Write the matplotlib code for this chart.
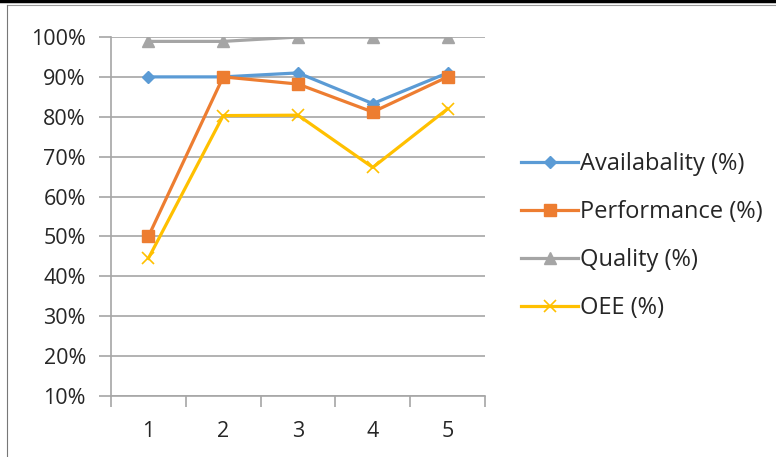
import matplotlib.pyplot as plt
from matplotlib.lines import Line2D

plt.rcParams['font.family'] = ['Open Sans', 'DejaVu Sans']

periods = [1, 2, 3, 4, 5]
availability = [90, 90, 91, 83.3, 91]
performance = [50, 90, 88.2, 81.2, 90]
quality = [98.9, 98.9, 100, 100, 100]
oee = [44.5, 80.3, 80.4, 67.3, 82]

yticks = list(range(10, 101, 10))

fig = plt.figure(figsize=(7.76, 4.57), dpi=100)
ax = fig.add_axes([111 / 776, 1 - 396 / 457, 374 / 776, 359 / 457])

grid_c = '#a6a6a6'
for t in yticks:
    ax.axhline(t, color=grid_c, lw=1.2, zorder=1)

ax.plot(periods, availability, color='#5b9bd5', lw=2.3, marker='D', ms=6.5,
        label='Availabality (%)', zorder=3)
ax.plot(periods, performance, color='#ed7d31', lw=2.3, marker='s', ms=8,
        label='Performance (%)', zorder=4)
ax.plot(periods, quality, color='#a5a5a5', lw=2.3, marker='^', ms=8.5,
        label='Quality (%)', zorder=3)
ax.plot(periods, oee, color='#ffc000', lw=2.3, marker='x', ms=9, mew=1.2,
        label='OEE (%)', zorder=3)

ax.set_xlim(0.5, 5.5)
ax.set_ylim(10, 100)
ax.set_yticks(yticks)
ax.set_yticklabels([f'{t}%' for t in yticks])
ax.set_xticks(periods)
ax.set_xticks([0.5, 1.5, 2.5, 3.5, 4.5, 5.5], minor=True)

for s in ['top', 'right']:
    ax.spines[s].set_visible(False)
ax.spines['left'].set_color(grid_c)
ax.spines['bottom'].set_color(grid_c)
ax.spines['left'].set_linewidth(1.2)
ax.spines['bottom'].set_linewidth(1.2)
ax.spines['left'].set_zorder(1)

ax.tick_params(axis='y', length=9, width=1.2, color=grid_c, labelsize=15.5,
               pad=9, labelcolor='#262626')
ax.tick_params(axis='x', which='major', length=0, labelsize=15.5, pad=18,
               labelcolor='#262626')
ax.tick_params(axis='x', which='minor', length=8, width=1.2, color=grid_c)

leg = fig.legend(loc='upper left', bbox_to_anchor=(500 / 776, 1 - 131 / 457),
                 frameon=False, fontsize=17, handlelength=2.4,
                 handletextpad=0.1, labelspacing=1.02, labelcolor='#262626')

# page frame around the chart
fig.add_artist(Line2D([0, 1], [0.998, 0.998], color='black', lw=2.5,
                      transform=fig.transFigure))
fig.add_artist(Line2D([7 / 776, 1], [1 - 5 / 457, 1 - 5 / 457], color='#999999',
                      lw=0.8, transform=fig.transFigure))
fig.add_artist(Line2D([7 / 776, 7 / 776], [0, 1 - 5 / 457], color='#777777',
                      lw=0.8, transform=fig.transFigure))

fig.savefig('out.png', dpi=100)
